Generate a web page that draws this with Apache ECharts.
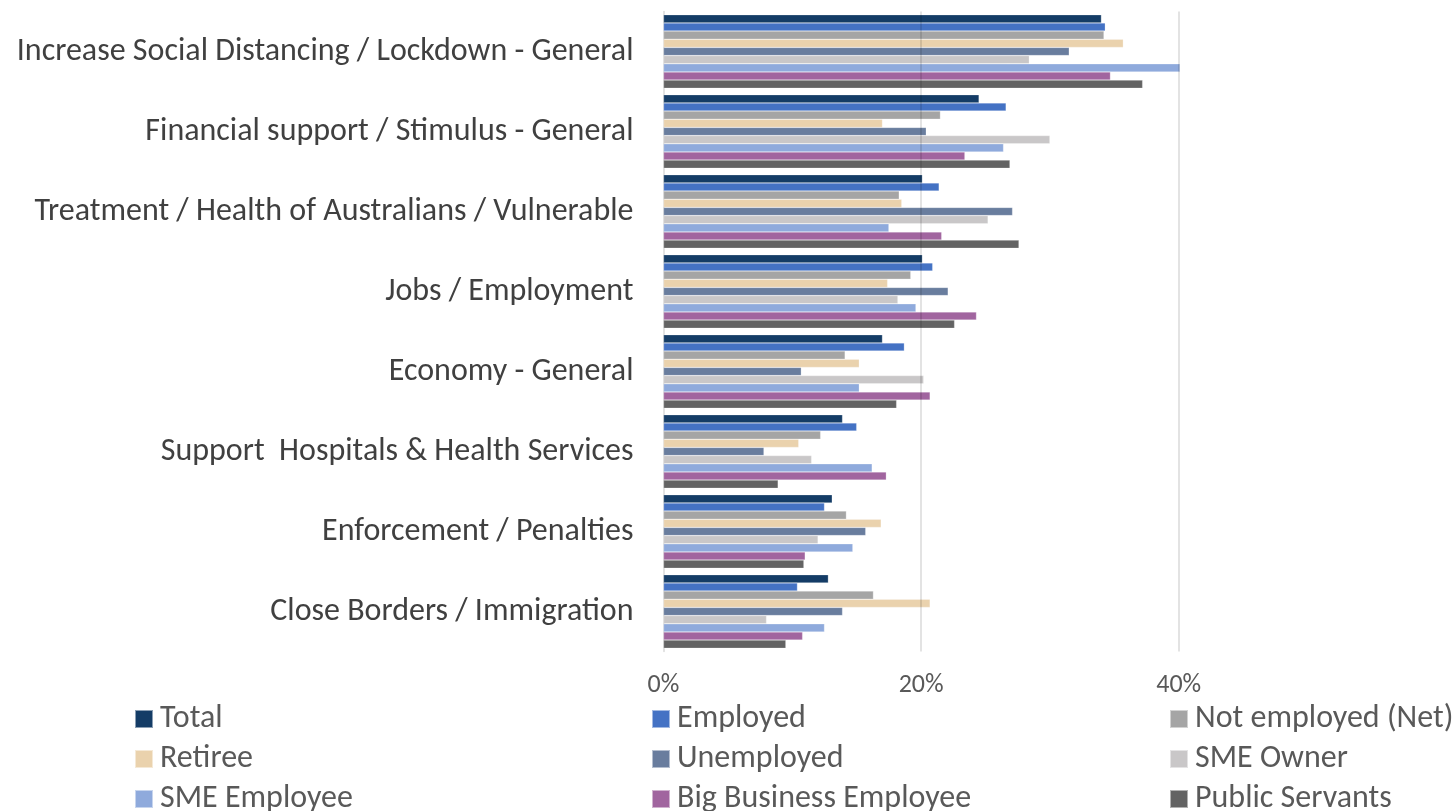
<!DOCTYPE html>
<html>
<head>
<meta charset="utf-8">
<script src="https://cdn.jsdelivr.net/npm/echarts@6/dist/echarts.min.js"></script>
<style>
html,body{margin:0;padding:0;background:#fff;}
#c{width:1456px;height:811px;}
</style>
</head>
<body>
<div id="c"></div>
<script>
const categories = [
  "Increase Social Distancing / Lockdown - General",
  "Financial support / Stimulus - General",
  "Treatment / Health of Australians / Vulnerable",
  "Jobs / Employment",
  "Economy - General",
  "Support  Hospitals & Health Services",
  "Enforcement / Penalties",
  "Close Borders / Immigration"
];
const seriesNames = ["Total","Employed","Not employed (Net)","Retiree","Unemployed","SME Owner","SME Employee","Big Business Employee","Public Servants"];
const seriesColors = ["#143c66","#4472c4","#a5a5a5","#ead2ad","#697d9e","#c9c7c8","#8faadc","#a1659f","#636363"];
const xTicks = [0, 20, 40];

const total        = [34.0, 24.5, 20.1, 20.1, 17.0, 13.9, 13.1, 12.8];
const employed     = [34.3, 26.6, 21.4, 20.9, 18.7, 15.0, 12.5, 10.4];
const notEmployed  = [34.2, 21.5, 18.3, 19.2, 14.1, 12.2, 14.2, 16.3];
const retiree      = [35.7, 17.0, 18.5, 17.4, 15.2, 10.5, 16.9, 20.7];
const unemployed   = [31.5, 20.4, 27.1, 22.1, 10.7,  7.8, 15.7, 13.9];
const smeOwner     = [28.4, 30.0, 25.2, 18.2, 20.2, 11.5, 12.0,  8.0];
const smeEmployee  = [40.1, 26.4, 17.5, 19.6, 15.2, 16.2, 14.7, 12.5];
const bigBusiness  = [34.7, 23.4, 21.6, 24.3, 20.7, 17.3, 11.0, 10.8];
const publicServ   = [37.2, 26.9, 27.6, 22.6, 18.1,  8.9, 10.9,  9.5];

const allValues = [total, employed, notEmployed, retiree, unemployed, smeOwner, smeEmployee, bigBusiness, publicServ];

const FONT = "Carlito, Lato, 'Liberation Sans', sans-serif";

const series = seriesNames.map((name, i) => {
  const s = {
    name: name,
    type: 'bar',
    data: allValues[i],
    barGap: '0%',
    barCategoryGap: '8%',
    itemStyle: { color: seriesColors[i], borderColor: 'rgba(255,255,255,0.5)', borderWidth: 0.5 },
    emphasis: { disabled: true }
  };
  if (i === seriesNames.length - 1) {
    s.markLine = {
      silent: true,
      symbol: ['none', 'none'],
      label: { show: false },
      lineStyle: { color: 'rgba(0,0,0,0.15)', type: 'solid', width: 1.5 },
      data: xTicks.filter(v => v > 0).map(v => ({ xAxis: v }))
    };
  }
  return s;
});

const legendCommon = {
  orient: 'vertical',
  icon: 'rect',
  itemWidth: 18,
  itemHeight: 18,
  itemGap: 8,
  top: 703,
  height: 200,
  padding: 0,
  textStyle: { fontFamily: FONT, fontSize: 32, color: '#595959', lineHeight: 32, padding: [0,0,0,2] },
  selectedMode: false
};

const chart = echarts.init(document.getElementById('c'), null, { renderer: 'canvas' });
chart.setOption({
  animation: false,
  backgroundColor: '#fff',
  textStyle: { fontFamily: FONT },
  grid: { left: 663.5, top: 11.5, height: 640, width: 644, containLabel: false },
  xAxis: {
    type: 'value',
    min: 0,
    max: 50,
    interval: 20,
    axisLine: { show: false },
    axisTick: { show: false },
    splitLine: { show: false },
    axisLabel: {
      formatter: v => xTicks.indexOf(v) >= 0 ? v + '%' : '',
      showMaxLabel: false,
      fontFamily: FONT, fontSize: 26, color: '#595959', margin: 21
    }
  },
  yAxis: {
    type: 'category',
    data: categories,
    inverse: true,
    axisLine: { show: true, lineStyle: { color: '#d9d9d9', width: 1.5 } },
    axisTick: { show: false },
    axisLabel: { fontFamily: FONT, fontSize: 32, color: '#404040', margin: 30 }
  },
  legend: [
    Object.assign({}, legendCommon, { left: 134, data: [seriesNames[0], seriesNames[3], seriesNames[6]] }),
    Object.assign({}, legendCommon, { left: 651, data: [seriesNames[1], seriesNames[4], seriesNames[7]] }),
    Object.assign({}, legendCommon, { left: 1169, data: [seriesNames[2], seriesNames[5], seriesNames[8]] })
  ],
  series: series
});
</script>
</body>
</html>
